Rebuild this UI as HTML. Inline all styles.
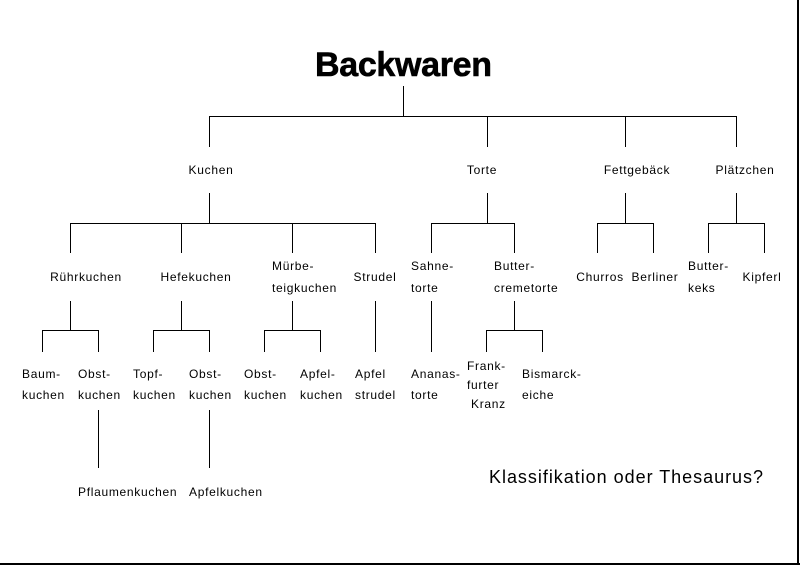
<!DOCTYPE html>
<html><head><meta charset="utf-8"><style>
html,body{margin:0;padding:0;background:#fff;}
svg{display:block;}
text{font-family:"Liberation Sans",Arial,sans-serif;font-size:12px;fill:#000;letter-spacing:0.7px;}
</style></head><body>
<svg width="800" height="565" viewBox="0 0 800 565" xmlns="http://www.w3.org/2000/svg">
<g stroke="#000" stroke-width="1" fill="none" shape-rendering="crispEdges">
<path d="M403.5 86V116.5M209.5 116.5H736.5M209.5 116V147M487.5 116V147M625.5 116V147M736.5 116V147"/>
<path d="M209.5 193V223.5M70.5 223.5H375.5M70.5 223V253M181.5 223V253M292.5 223V253M375.5 223V253"/>
<path d="M487.5 193V223.5M431.5 223.5H514.5M431.5 223V253M514.5 223V253"/>
<path d="M625.5 193V223.5M597.5 223.5H653.5M597.5 223V253M653.5 223V253"/>
<path d="M736.5 193V223.5M708.5 223.5H764.5M708.5 223V253M764.5 223V253"/>
<path d="M70.5 301V330.5M42.5 330.5H98.5M42.5 330V352M98.5 330V352"/>
<path d="M181.5 301V330.5M153.5 330.5H209.5M153.5 330V352M209.5 330V352"/>
<path d="M292.5 301V330.5M264.5 330.5H320.5M264.5 330V352M320.5 330V352"/>
<path d="M375.5 301V352M431.5 301V352"/>
<path d="M514.5 301V330.5M486.5 330.5H542.5M486.5 330V352M542.5 330V352"/>
<path d="M98.5 410V468M209.5 410V468"/>
</g>
<rect x="797" y="0" width="2" height="565" fill="#000"/>
<rect x="0" y="563" width="800" height="2" fill="#000"/>
<text x="315" y="76" textLength="177" style="font-size:34px;font-weight:bold;letter-spacing:0;stroke:#000;stroke-width:0.6">Backwaren</text>
<g text-anchor="middle">
<text x="211" y="174">Kuchen</text>
<text x="482" y="174">Torte</text>
<text x="637" y="174">Fettgebäck</text>
<text x="745" y="174">Plätzchen</text>
<text x="86" y="281">Rührkuchen</text>
<text x="196" y="281">Hefekuchen</text>
<text x="375" y="281">Strudel</text>
<text x="600" y="281">Churros</text>
<text x="655" y="281">Berliner</text>
<text x="762" y="281">Kipferl</text>
</g>
<text x="489" y="483" textLength="274" style="font-size:18px;letter-spacing:0">Klassifikation oder Thesaurus?</text>
<text x="272" y="270">Mürbe-</text><text x="272" y="292">teigkuchen</text>
<text x="411" y="270">Sahne-</text><text x="411" y="292">torte</text>
<text x="494" y="270">Butter-</text><text x="494" y="292">cremetorte</text>
<text x="688" y="270">Butter-</text><text x="688" y="292">keks</text>
<text x="22" y="378">Baum-</text><text x="22" y="399">kuchen</text>
<text x="78" y="378">Obst-</text><text x="78" y="399">kuchen</text>
<text x="133" y="378">Topf-</text><text x="133" y="399">kuchen</text>
<text x="189" y="378">Obst-</text><text x="189" y="399">kuchen</text>
<text x="244" y="378">Obst-</text><text x="244" y="399">kuchen</text>
<text x="300" y="378">Apfel-</text><text x="300" y="399">kuchen</text>
<text x="355" y="378">Apfel</text><text x="355" y="399">strudel</text>
<text x="411" y="378">Ananas-</text><text x="411" y="399">torte</text>
<text x="467" y="370">Frank-</text><text x="467" y="389">furter</text><text x="471" y="408">Kranz</text>
<text x="522" y="378">Bismarck-</text><text x="522" y="399">eiche</text>
<text x="78" y="496">Pflaumenkuchen</text>
<text x="189" y="496">Apfelkuchen</text>
</svg>
</body></html>
